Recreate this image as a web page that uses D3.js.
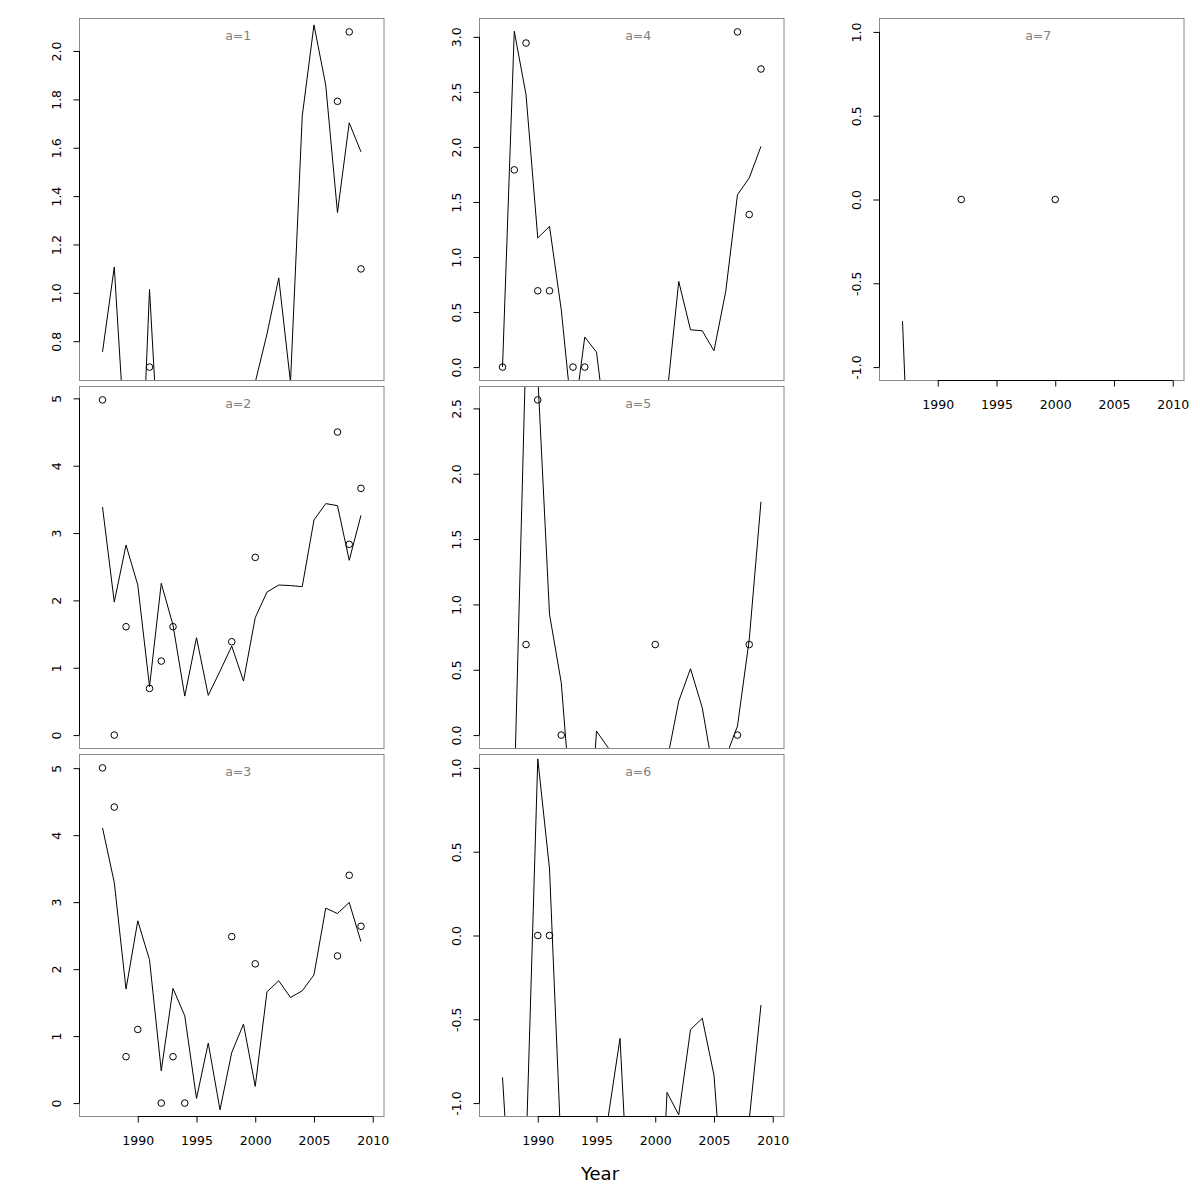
<!DOCTYPE html>
<html><head><meta charset="utf-8">
<script src="https://cdn.jsdelivr.net/npm/d3@7"></script>
<style>
body{margin:0;background:#fff}
svg{display:block}
text{font-family:"DejaVu Sans",sans-serif}
</style>
</head><body>
<svg id="c" width="1200" height="1200"></svg>
<script>
// ---- data ----
const years = [1987,1988,1989,1990,1991,1992,1993,1994,1995,1996,1997,1998,1999,2000,2001,2002,2003,2004,2005,2006,2007,2008,2009];
const xTicks = [1990,1995,2000,2005,2010];
const panelNames = ["a=1","a=2","a=3","a=4","a=5","a=6","a=7"];

// fitted line per year (values outside the plotted range are clipped)
const fit1 = [0.756,1.107,0.32,-0.17,1.014,0.14,0.25,-0.1,-0.3,-0.2,0.0,0.1,-0.1,0.63,0.83,1.062,0.63,1.731,2.108,1.859,1.332,1.703,1.583];
const fit2 = [3.386,1.975,2.822,2.228,0.72,2.253,1.634,0.579,1.446,0.59,0.95,1.322,0.802,1.744,2.124,2.228,2.22,2.204,3.193,3.437,3.407,2.595,3.263];
const fit3 = [4.109,3.294,1.701,2.721,2.139,0.482,1.712,1.303,0.07,0.896,-0.1,0.756,1.179,0.249,1.662,1.826,1.577,1.676,1.915,2.91,2.83,2.995,2.41];
const fit4 = [0.0,3.051,2.475,1.173,1.278,0.521,-0.54,0.273,0.136,-0.73,-1.2,-1.5,-1.3,-0.9,-0.26,0.778,0.339,0.33,0.148,0.687,1.566,1.718,2.005];
const fit5 = [-0.8,-0.45,3.0,2.75,0.924,0.401,-0.74,-1.3,0.031,-0.098,-0.6,-0.9,-0.8,-0.5,-0.2,0.26,0.508,0.21,-0.31,-0.17,0.069,0.73,1.786];
const fit6 = [-0.847,-2.0,-1.3,1.054,0.397,-1.3,-2.0,-2.5,-1.8,-1.08,-0.614,-1.97,-2.5,-2.5,-0.936,-1.07,-0.562,-0.494,-0.833,-1.77,-2.2,-1.1,-0.415];
const fit7 = [-0.726,-2.5,-3.2,-3.0,-3.4,-2.9,-3.6,-3.3,-3.8,-3.5,-4.0,-3.7,-3.9,-3.4,-3.8,-3.6,-4.1,-3.9,-4.2,-3.8,-4.0,-4.3,-4.1];

// observed points
const obsYear1 = [1991,2007,2008,2009];
const obsVal1  = [0.693,1.792,2.079,1.099];
const obsYear2 = [1987,1988,1989,1991,1992,1993,1998,2000,2007,2008,2009];
const obsVal2  = [4.977,0,1.609,0.693,1.099,1.609,1.386,2.639,4.5,2.833,3.664];
const obsYear3 = [1987,1988,1989,1990,1992,1993,1994,1998,2000,2007,2008,2009];
const obsVal3  = [5.004,4.419,0.693,1.099,0,0.693,0,2.485,2.079,2.197,3.401,2.639];
const obsYear4 = [1987,1988,1989,1990,1991,1993,1994,2007,2008,2009];
const obsVal4  = [0,1.792,2.944,0.693,0.693,0,0,3.045,1.386,2.708];
const obsYear5 = [1989,1990,1992,2000,2007,2008];
const obsVal5  = [0.693,2.565,0,0.693,0,0.693];
const obsYear6 = [1990,1991];
const obsVal6  = [0,0];
const obsYear7 = [1992,2000];
const obsVal7  = [0,0];

// y tick values and labels
const yTicks1 = [0.8,1.0,1.2,1.4,1.6,1.8,2.0];
const yLabels1 = ["0.8","1.0","1.2","1.4","1.6","1.8","2.0"];
const yTicks2 = [0,1,2,3,4,5];
const yLabels2 = ["0","1","2","3","4","5"];
const yTicks3 = [0,1,2,3,4,5];
const yLabels3 = ["0","1","2","3","4","5"];
const yTicks4 = [0,0.5,1,1.5,2,2.5,3];
const yLabels4 = ["0.0","0.5","1.0","1.5","2.0","2.5","3.0"];
const yTicks5 = [0,0.5,1,1.5,2,2.5];
const yLabels5 = ["0.0","0.5","1.0","1.5","2.0","2.5"];
const yTicks6 = [-1,-0.5,0,0.5,1];
const yLabels6 = ["-1.0","-0.5","0.0","0.5","1.0"];
const yTicks7 = [-1,-0.5,0,0.5,1];
const yLabels7 = ["-1.0","-0.5","0.0","0.5","1.0"];

// ---- layout ----
const panels = [
  {name:panelNames[0], col:0,row:0, fit:fit1, oy:obsYear1, ov:obsVal1, yt:yTicks1, yl:yLabels1, xaxis:false},
  {name:panelNames[1], col:0,row:1, fit:fit2, oy:obsYear2, ov:obsVal2, yt:yTicks2, yl:yLabels2, xaxis:false},
  {name:panelNames[2], col:0,row:2, fit:fit3, oy:obsYear3, ov:obsVal3, yt:yTicks3, yl:yLabels3, xaxis:true},
  {name:panelNames[3], col:1,row:0, fit:fit4, oy:obsYear4, ov:obsVal4, yt:yTicks4, yl:yLabels4, xaxis:false},
  {name:panelNames[4], col:1,row:1, fit:fit5, oy:obsYear5, ov:obsVal5, yt:yTicks5, yl:yLabels5, xaxis:false},
  {name:panelNames[5], col:1,row:2, fit:fit6, oy:obsYear6, ov:obsVal6, yt:yTicks6, yl:yLabels6, xaxis:true},
  {name:panelNames[6], col:2,row:0, fit:fit7, oy:obsYear7, ov:obsVal7, yt:yTicks7, yl:yLabels7, xaxis:true}
];

const svg = d3.select('#c');
const W = 304.5, H = 362;
const colX = [79.5, 479.5, 879.5];
const rowY = [18.5, 386.5, 754.5];
const FS = '12.5px';

const x = d3.scaleLinear().domain([1985.04, 2010.96]).range([0, W]);

panels.forEach((p, i) => {
  const g = svg.append('g').attr('transform', `translate(${colX[p.col]},${rowY[p.row]})`);
  let y0 = d3.min(p.ov), y1 = d3.max(p.ov);
  if (y0 === y1) { y0 -= 1; y1 += 1; }
  const pad = (y1 - y0) * 0.04;
  const y = d3.scaleLinear().domain([y0 - pad, y1 + pad]).range([H, 0]);

  const cid = 'clip' + i;
  g.append('clipPath').attr('id', cid).append('rect').attr('x', 0).attr('y', 0).attr('width', W).attr('height', H);
  const inner = g.append('g').attr('clip-path', `url(#${cid})`);

  const line = d3.line().x((d, j) => x(years[j])).y(d => y(d));
  inner.append('path').datum(p.fit).attr('d', line)
    .attr('fill', 'none').attr('stroke', '#000').attr('stroke-width', 1);

  inner.selectAll('circle').data(p.ov).enter().append('circle')
    .attr('cx', (d, j) => x(p.oy[j])).attr('cy', d => y(d)).attr('r', 3.3)
    .attr('fill', 'none').attr('stroke', '#000').attr('stroke-width', 1);

  g.append('rect').attr('x', 0).attr('y', 0).attr('width', W).attr('height', H)
    .attr('fill', 'none').attr('stroke', '#888').attr('stroke-width', 1);

  // y axis
  const ya = g.append('g').call(d3.axisLeft(y).tickValues(p.yt).tickFormat((d, j) => p.yl[j]).tickSize(6));
  ya.select('.domain').remove();
  ya.selectAll('line').attr('stroke', '#000');
  ya.selectAll('text').attr('transform', 'rotate(-90)').attr('x', 0).attr('y', -19).attr('dy', null)
    .attr('text-anchor', 'middle').attr('fill', '#000').style('font-size', FS).style('font-family', '"DejaVu Sans",sans-serif');
  ya.append('line').attr('x1', 0).attr('x2', 0)
    .attr('y1', y(p.yt[0])).attr('y2', y(p.yt[p.yt.length - 1])).attr('stroke', '#000');

  if (p.xaxis) {
    const xa = g.append('g').attr('transform', `translate(0,${H})`)
      .call(d3.axisBottom(x).tickValues(xTicks).tickFormat(d3.format('d')).tickSize(6));
    xa.select('.domain').remove();
    xa.selectAll('line').attr('stroke', '#000');
    xa.selectAll('text').attr('y', 28).attr('dy', null).attr('fill', '#000')
      .style('font-size', FS).style('font-family', '"DejaVu Sans",sans-serif');
    xa.append('line').attr('y1', 0).attr('y2', 0)
      .attr('x1', x(xTicks[0])).attr('x2', x(xTicks[xTicks.length - 1])).attr('stroke', '#000');
  }

  g.append('text').attr('x', x(1998.55)).attr('y', 21.5).attr('text-anchor', 'middle')
    .attr('fill', '#808080').style('font-size', FS).text(p.name);
});

svg.append('text').attr('x', 600).attr('y', 1180).attr('text-anchor', 'middle')
  .attr('fill', '#000').style('font-size', '18px').text('Year');
</script>
</body></html>
